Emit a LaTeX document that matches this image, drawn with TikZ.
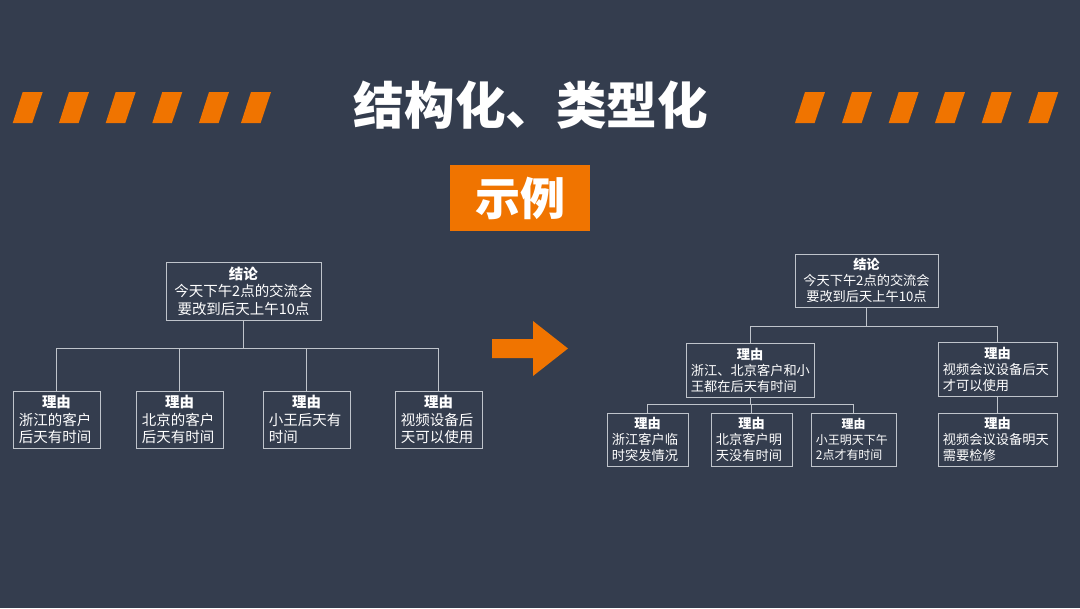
\documentclass[tikz,border=0pt]{standalone}
\usepackage{fontspec}
\setmainfont{Noto Sans CJK SC}
\usetikzlibrary{positioning}
\definecolor{slate}{HTML}{343D4E}
\definecolor{brandorange}{HTML}{F07400}
\definecolor{wire}{HTML}{BFC4CB}
\newcommand{\reasontext}[1]{\makebox[\linewidth][c]{\bfseries 理由}\\#1}

\begin{document}
\begin{tikzpicture}[
    x=0.025cm, y=-0.025cm,
    box/.style={draw=wire, line width=0.6pt, text=white, inner ysep=0pt},
    concl/.style={box, align=center, inner xsep=0pt},
    leftconcl/.style={concl, font=\fontsize{10.3}{12.5}\selectfont, minimum width=3.875cm, minimum height=1.45cm},
    rightconcl/.style={concl, font=\fontsize{9.4}{11.4}\selectfont, minimum width=3.575cm, minimum height=1.325cm},
    leftreason/.style={box, align=left, font=\fontsize{10.3}{12.5}\selectfont, inner xsep=0.15cm, text width=1.875cm, minimum height=1.425cm},
    rightreason/.style={box, align=left, font=\fontsize{9.4}{11.4}\selectfont, inner xsep=0.125cm, minimum height=1.35cm},
    link/.style={draw=wire, line width=0.6pt},
    stripe/.style={fill=brandorange}
]
\fill[slate] (0,0) rectangle (1080,608);
\useasboundingbox (0,0) rectangle (1080,608);

\foreach \sx in {12.7,59,105.7,152.3,199,241,795,842,888.7,935,981.7,1028.3}
  \fill[stripe] (\sx,123) -- ++(19.6,0) -- ++(10.4,-31) -- ++(-20,0) -- cycle;

\node[text=white, font=\fontsize{36}{40}\selectfont\bfseries] (title) at (531,105) {结构化、类型化};
\node[fill=brandorange, text=white, font=\fontsize{32}{36}\selectfont\bfseries, minimum width=3.5cm, minimum height=1.65cm, inner sep=0pt] (example) at (520,198) {示例};

\node[leftconcl] (ltop) at (243.5,291) {\textbf{结论}\\今天下午2点的交流会\\要改到后天上午10点};
\node[leftreason] (l1) at (56.5,419.5) {\reasontext{浙江的客户\\后天有时间}};
\node[leftreason] (l2) at (179.5,419.5) {\reasontext{北京的客户\\后天有时间}};
\node[leftreason] (l3) at (306.5,419.5) {\reasontext{小王后天有\\时间}};
\node[leftreason] (l4) at (438.5,419.5) {\reasontext{视频设备后\\天可以使用}};
\coordinate (lbar) at (243.5,348);
\draw[link] (ltop) -- (lbar);
\draw[link] (l1.north |- lbar) -- (l4.north |- lbar);
\foreach \n in {l1,l2,l3,l4}
  \draw[link] (\n.north |- lbar) -- (\n);

\fill[brandorange] (492,339) -- (533,339) -- (533,321) -- (568,348.5) -- (533,376) -- (533,358) -- (492,358) -- cycle;

\node[rightconcl] (rtop) at (866.5,280.5) {\textbf{结论}\\今天下午2点的交流会\\要改到后天上午10点};
\node[rightreason, text width=2.95cm] (rA) at (750,370) {\reasontext{浙江、北京客户和小\\王都在后天有时间}};
\node[rightreason, text width=2.725cm] (rB) at (997.5,369.5) {\reasontext{视频会议设备后天\\才可以使用}};
\node[rightreason, text width=1.775cm, minimum height=1.325cm] (rA1) at (647.5,439.5) {\reasontext{浙江客户临\\时突发情况}};
\node[rightreason, text width=1.775cm, minimum height=1.325cm] (rA2) at (751.5,439.5) {\reasontext{北京客户明\\天没有时间}};
\node[rightreason, text width=1.875cm, minimum height=1.325cm, font=\fontsize{8.5}{11.2}\selectfont] (rA3) at (853.5,439.5) {\reasontext{小王明天下午\\2点才有时间}};
\node[rightreason, text width=2.725cm, minimum height=1.325cm] (rB1) at (997.5,439.5) {\reasontext{视频会议设备明天\\需要检修}};
\coordinate (rbar) at (866.5,326);
\coordinate (rAbar) at (750,404);
\draw[link] (rtop) -- (rbar);
\draw[link] (rA.north |- rbar) -- (rB.north |- rbar);
\foreach \n in {rA,rB}
  \draw[link] (\n.north |- rbar) -- (\n);
\draw[link] (rA) -- (rAbar);
\draw[link] (rA1.north |- rAbar) -- (rA3.north |- rAbar);
\foreach \n in {rA1,rA2,rA3}
  \draw[link] (\n.north |- rAbar) -- (\n);
\draw[link] (rB) -- (rB1);
\end{tikzpicture}
\end{document}
